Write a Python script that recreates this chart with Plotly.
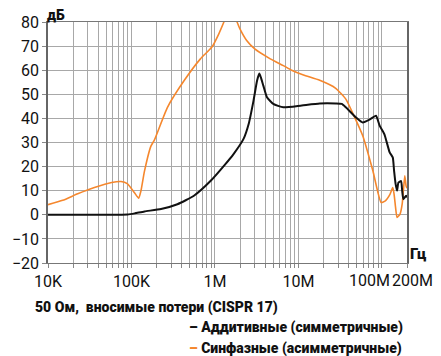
import numpy as np
import plotly.graph_objects as go

# Insertion loss, 50 Ohm system (CISPR 17)
# Differential-mode (symmetric) attenuation
dm_freq = [1e4, 5e4, 9e4, 1.1e5, 1.43e5, 2.26e5, 3.55e5, 5.6e5, 8.9e5, 1.28e6,
           1.67e6, 2.2e6, 2.54e6, 2.9e6, 3.2e6, 3.4e6, 3.55e6, 3.8e6, 4.2e6, 5e6,
           6.6e6, 1.1e7, 1.8e7, 2.8e7, 3.3e7, 3.7e7, 4.9e7, 5.9e7, 7.2e7, 8.5e7,
           9.4e7, 1.07e8, 1.24e8, 1.35e8, 1.4e8, 1.46e8, 1.52e8, 1.58e8, 1.7e8,
           1.75e8, 1.81e8, 1.95e8, 2.0e8]
dm_db = [0, 0, 0.1, 0.6, 1.4, 2.4, 4.4, 7.9, 14.1, 20.3,
         25.2, 31.5, 37.8, 47.4, 55.7, 58.6, 57, 53.6, 48.8, 46,
         44.6, 45.4, 46.2, 46.2, 46, 44.6, 40.4, 38.3, 39.6, 41.1,
         37, 33.5, 25.9, 23.8, 18.3, 12.8, 10, 13.4, 14,
         10, 6.5, 7.9, 7.2]

# Common-mode (asymmetric) attenuation
cm_freq = [1e4, 1.5e4, 2.27e4, 3.6e4, 5.8e4, 7.5e4, 8.9e4, 1.08e5, 1.22e5, 1.3e5,
           1.43e5, 1.71e5, 1.88e5, 2.7e5, 4.28e5, 6.7e5, 9.2e5, 1.11e6, 1.28e6,
           1.5e6, 1.84e6, 2.0e6, 2.4e6, 3.0e6, 4.6e6, 6.6e6, 8.3e6, 1.15e7, 1.8e7,
           2.8e7, 3.7e7, 4.5e7, 5.9e7, 7.8e7, 9.8e7, 1.1e8, 1.25e8, 1.35e8, 1.4e8,
           1.46e8, 1.52e8, 1.65e8, 1.75e8, 1.81e8, 1.88e8, 1.95e8, 2.0e8]
cm_db = [4.2, 6.0, 8.7, 11.3, 13.4, 13.8, 12.9, 9.3, 6.9, 10,
         18, 28.5, 31, 44.6, 55.7, 64.7, 69.6, 75, 80,
         86, 80, 77, 72.3, 68.8, 64.7, 61.9, 60, 58, 55.8,
         52.5, 48, 42, 32.8, 18.3, 5.1, 5.8, 8.5, 11.3, 8.6,
         3, -1.1, 0.3, 4.4, 10, 16.2, 12, 11]

# Axis ticks
major_freq = [1e4, 1e5, 1e6, 1e7]
major_text = ["10K", "100K", "1M", "10M"]
y_ticks = list(range(-20, 81, 10))

grid_freq = [m * 10 ** d for d in range(4, 9) for m in range(1, 10) if m * 10 ** d <= 2e8]
grid_text = [major_text[major_freq.index(f)] if f in major_freq else "" for f in grid_freq]

BLACK = "#111111"
ORANGE = "#f5872d"
FONT = "Roboto, Arial, sans-serif"

fig = go.Figure()
fig.add_trace(go.Scatter(x=cm_freq, y=cm_db, mode="lines",
                         line=dict(color=ORANGE, width=1.6, shape="spline", smoothing=0.5),
                         hoverinfo="skip"))
fig.add_trace(go.Scatter(x=dm_freq, y=dm_db, mode="lines",
                         line=dict(color=BLACK, width=2.0, shape="spline", smoothing=0.5),
                         hoverinfo="skip"))

fig.update_layout(
    width=441, height=356,
    margin=dict(l=43, r=34, t=22, b=93),
    paper_bgcolor="white", plot_bgcolor="white",
    showlegend=False,
    font=dict(family=FONT, color="#111111"),
)

fig.update_xaxes(
    type="log", range=[4, np.log10(2e8)],
    tickmode="array", tickvals=grid_freq, ticktext=grid_text,
    tickfont=dict(size=16),
    showgrid=True, gridcolor="#a8a8a8", gridwidth=1,
    ticks="outside", ticklen=4, tickcolor="#888888",
    showline=True, linecolor="#777777", linewidth=1.2, mirror=True,
    zeroline=False,
)
fig.update_yaxes(
    range=[-20, 80], tickmode="array", tickvals=y_ticks,
    tickfont=dict(size=16),
    showgrid=True, gridcolor="#a8a8a8", gridwidth=1,
    ticks="outside", ticklen=4, tickcolor="#888888",
    showline=True, linecolor="#666666", linewidth=1.5, mirror=True,
    zeroline=False,
)

# Labels of the last two decades, nudged apart so they do not collide
for f, txt, dx in [(1e8, "100M", -12), (2e8, "200M", 5)]:
    fig.add_annotation(x=np.log10(f), xref="x", y=0, yref="paper",
                       text=txt, showarrow=False, xshift=dx, yshift=-6,
                       yanchor="top", font=dict(size=16, family=FONT))

HEAVY = dict(family=FONT, weight=900)

# Axis units
fig.add_annotation(x=0, xref="paper", y=1, yref="paper", text="дБ",
                   showarrow=False, xanchor="left", yanchor="bottom",
                   xshift=-3, yshift=-3, font=dict(size=14, **HEAVY))
fig.add_annotation(x=1, xref="paper", y=0, yref="paper", text="Гц",
                   showarrow=False, xanchor="left", yanchor="bottom",
                   xshift=1, yshift=-2, font=dict(size=15, **HEAVY))

# Caption and legend lines
fig.add_annotation(x=0, xref="paper", y=0, yref="paper",
                   text="50 Ом,  вносимые потери (CISPR 17)",
                   showarrow=False, xanchor="left", yanchor="middle",
                   xshift=-15, yshift=-44, font=dict(size=14, **HEAVY))
fig.add_annotation(x=0, xref="paper", y=0, yref="paper",
                   text=f"<span style='color:{BLACK}'>–</span> Аддитивные (симметричные)",
                   showarrow=False, xanchor="left", yanchor="middle",
                   xshift=139, yshift=-64, font=dict(size=14, **HEAVY))
fig.add_annotation(x=0, xref="paper", y=0, yref="paper",
                   text=f"<span style='color:{ORANGE}'>–</span> Синфазные (асимметричные)",
                   showarrow=False, xanchor="left", yanchor="middle",
                   xshift=139, yshift=-85, font=dict(size=14, **HEAVY))

fig.write_html("out.html")
